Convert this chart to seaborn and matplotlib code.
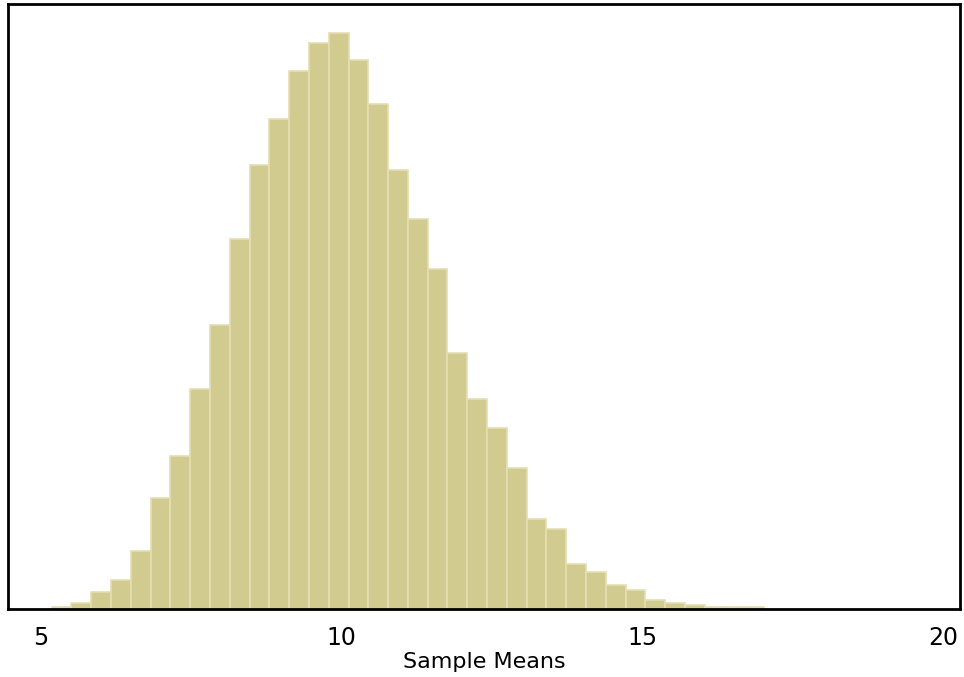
import numpy as np
import pandas as pd
import seaborn as sns
import matplotlib
matplotlib.use("Agg")
import matplotlib.pyplot as plt

# histogram of sample means: bin edges and counts
bin_start = 5.18
bin_width = 0.329
counts = [3, 9, 23, 40, 80, 154, 213, 306, 394, 514, 617, 680,
          747, 786, 800, 762, 701, 609, 542, 472, 356, 292, 252, 196,
          125, 111, 62, 51, 34, 27, 13, 9, 6, 3, 3, 3]
x_ticks = [5, 10, 15, 20]

edges = [bin_start + bin_width * i for i in range(len(counts) + 1)]
df = pd.DataFrame({
    "mean": [(edges[i] + edges[i + 1]) / 2 for i in range(len(counts))],
    "count": counts,
})

sns.set_style("white")
plt.rcParams["font.family"] = ["DejaVu Sans"]

fig = plt.figure(figsize=(9.64, 6.77), dpi=100)
ax = fig.add_axes([0.0083, 0.1004, 0.9876, 0.8936])

sns.histplot(data=df, x="mean", weights="count", bins=edges, ax=ax,
             color="#d2cb8f", edgecolor="#e4deb2", linewidth=1.2, alpha=1)

ax.set_xlim(4.455, 20.28)
ax.set_xticks(x_ticks)
ax.set_xticklabels([str(t) for t in x_ticks], fontsize=17, color="black")
ax.set_yticks([])
ax.set_ylabel("")
ax.set_xlabel("Sample Means", fontsize=16, color="black", labelpad=2)
ax.tick_params(axis="x", direction="out", length=7, width=2, color="black", pad=5)
for s in ax.spines.values():
    s.set_visible(True)
    s.set_color("black")
    s.set_linewidth(2)

fig.savefig("out.png", dpi=100)
